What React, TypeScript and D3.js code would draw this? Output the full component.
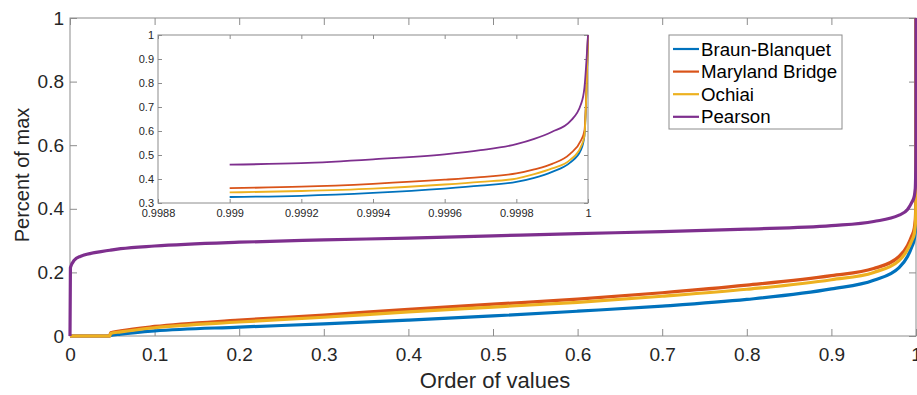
import React, { useEffect, useRef } from 'react';
import * as d3 from 'd3';

// order of values (shared by every series)
const orderValues = [
  0, 0.0005, 0.005, 0.012, 0.047, 0.048, 0.06, 0.1, 0.2, 0.3, 0.4, 0.5, 0.6, 0.7, 0.8, 0.9,
  0.95, 0.98, 0.99, 0.995, 0.998, 0.999, 0.9992, 0.9994, 0.9996, 0.9997, 0.9998, 0.99985,
  0.9999, 0.99995, 0.99998, 0.99999, 1,
];

const braunBlanquet = [
  0, 0, 0, 0, 0, 0.002, 0.006, 0.016, 0.028, 0.038, 0.05, 0.063, 0.078, 0.094, 0.115, 0.148,
  0.175, 0.215, 0.25, 0.28, 0.305, 0.325, 0.33, 0.342, 0.36, 0.372, 0.388, 0.405, 0.43, 0.468,
  0.52, 0.58, 1,
];
const marylandBridge = [
  0, 0, 0, 0, 0, 0.01, 0.016, 0.03, 0.05, 0.066, 0.084, 0.1, 0.116, 0.136, 0.16, 0.19, 0.212,
  0.25, 0.285, 0.315, 0.34, 0.362, 0.368, 0.38, 0.397, 0.408, 0.423, 0.44, 0.463, 0.505, 0.56,
  0.6, 1,
];
const ochiai = [
  0, 0, 0, 0, 0, 0.008, 0.013, 0.026, 0.044, 0.059, 0.076, 0.091, 0.106, 0.125, 0.147, 0.177,
  0.2, 0.237, 0.272, 0.3, 0.322, 0.344, 0.35, 0.36, 0.377, 0.388, 0.402, 0.42, 0.444, 0.48,
  0.534, 0.58, 1,
];
const pearson = [
  0, 0.215, 0.238, 0.25, 0.2695, 0.27, 0.2745, 0.283, 0.295, 0.302, 0.308, 0.315, 0.322, 0.328,
  0.336, 0.347, 0.36, 0.38, 0.398, 0.42, 0.44, 0.46, 0.466, 0.482, 0.503, 0.52, 0.545,
  0.567, 0.597, 0.64, 0.71, 0.78, 1,
];

const seriesNames = ['Braun-Blanquet', 'Maryland Bridge', 'Ochiai', 'Pearson'];
const seriesValues = [braunBlanquet, marylandBridge, ochiai, pearson];
const seriesColors = ['#0072BD', '#D95319', '#EDB120', '#7E2F8E'];

const mainXTicks = [0, 0.1, 0.2, 0.3, 0.4, 0.5, 0.6, 0.7, 0.8, 0.9, 1];
const mainYTicks = [0, 0.2, 0.4, 0.6, 0.8, 1];
const insetXTicks = [0.9988, 0.999, 0.9992, 0.9994, 0.9996, 0.9998, 1];
const insetYTicks = [0.3, 0.4, 0.5, 0.6, 0.7, 0.8, 0.9, 1];

const FONT = '"Liberation Sans", Arial, Helvetica, sans-serif';
const AXIS_GRAY = '#8c8c8c';
const TEXT_COLOR = '#262626';

function App() {
  const ref = useRef<SVGSVGElement | null>(null);

  useEffect(() => {
    const svg = d3.select(ref.current);
    svg.selectAll('*').remove();

    const fmt = d3.format('~g');

    // ---- main axes
    const m = { left: 70, right: 916, top: 18, bottom: 336 };
    const x = d3.scaleLinear().domain([0, 1]).range([m.left, m.right]);
    const y = d3.scaleLinear().domain([0, 1]).range([m.bottom, m.top]);

    const main = svg.append('g');

    main.append('rect')
      .attr('x', m.left).attr('y', m.top)
      .attr('width', m.right - m.left).attr('height', m.bottom - m.top)
      .attr('fill', '#fff');

    const styleAxis = (g: any, size: number) => {
      g.select('.domain').remove();
      g.selectAll('.tick line').attr('stroke', AXIS_GRAY).attr('stroke-width', 1);
      g.selectAll('.tick text')
        .attr('fill', TEXT_COLOR)
        .style('font-family', FONT)
        .style('font-size', `${size}px`);
    };

    main.append('g')
      .attr('transform', `translate(0,${m.bottom})`)
      .call(d3.axisBottom(x).tickValues(mainXTicks).tickFormat(fmt as any)
        .tickSizeInner(-7).tickSizeOuter(0).tickPadding(12))
      .call((g: any) => styleAxis(g, 19));
    main.append('g')
      .attr('transform', `translate(0,${m.top})`)
      .call(d3.axisBottom(x).tickValues(mainXTicks).tickFormat(() => '')
        .tickSizeInner(7).tickSizeOuter(0))
      .call((g: any) => styleAxis(g, 19));
    main.append('g')
      .attr('transform', `translate(${m.left},0)`)
      .call(d3.axisLeft(y).tickValues(mainYTicks).tickFormat(fmt as any)
        .tickSizeInner(-7).tickSizeOuter(0).tickPadding(6))
      .call((g: any) => styleAxis(g, 19));
    main.append('g')
      .attr('transform', `translate(${m.right},0)`)
      .call(d3.axisLeft(y).tickValues(mainYTicks).tickFormat(() => '')
        .tickSizeInner(7).tickSizeOuter(0))
      .call((g: any) => styleAxis(g, 19));

    main.append('rect')
      .attr('x', m.left).attr('y', m.top)
      .attr('width', m.right - m.left).attr('height', m.bottom - m.top)
      .attr('fill', 'none').attr('stroke', AXIS_GRAY).attr('stroke-width', 1);

    const lineMain = d3.line<number>()
      .curve(d3.curveMonotoneX)
      .x((_d, i) => x(orderValues[i]))
      .y((d) => y(d));

    seriesValues.forEach((vals, k) => {
      main.append('path')
        .attr('d', lineMain(vals))
        .attr('fill', 'none')
        .attr('stroke', seriesColors[k])
        .attr('stroke-width', 3.2)
        .attr('stroke-linejoin', 'round');
    });

    main.append('text')
      .attr('x', 495).attr('y', 388)
      .attr('text-anchor', 'middle')
      .attr('fill', TEXT_COLOR)
      .style('font-family', FONT).style('font-size', '22px')
      .text('Order of values');
    main.append('text')
      .attr('transform', `translate(29,${(m.top + m.bottom) / 2 - 2}) rotate(-90)`)
      .attr('text-anchor', 'middle')
      .attr('fill', TEXT_COLOR)
      .style('font-family', FONT).style('font-size', '20px')
      .text('Percent of max');

    // ---- inset
    const n = { left: 158, right: 588, top: 35, bottom: 203 };
    const xi = d3.scaleLinear().domain([0.9988, 1]).range([n.left, n.right]);
    const yi = d3.scaleLinear().domain([0.3, 1]).range([n.bottom, n.top]);
    const inset = svg.append('g');

    inset.append('rect')
      .attr('x', n.left).attr('y', n.top)
      .attr('width', n.right - n.left).attr('height', n.bottom - n.top)
      .attr('fill', '#fff');

    inset.append('g')
      .attr('transform', `translate(0,${n.bottom})`)
      .call(d3.axisBottom(xi).tickValues(insetXTicks).tickFormat(fmt as any)
        .tickSizeInner(-4).tickSizeOuter(0).tickPadding(6))
      .call((g: any) => styleAxis(g, 11));
    inset.append('g')
      .attr('transform', `translate(0,${n.top})`)
      .call(d3.axisBottom(xi).tickValues(insetXTicks).tickFormat(() => '')
        .tickSizeInner(4).tickSizeOuter(0))
      .call((g: any) => styleAxis(g, 11));
    inset.append('g')
      .attr('transform', `translate(${n.left},0)`)
      .call(d3.axisLeft(yi).tickValues(insetYTicks).tickFormat(fmt as any)
        .tickSizeInner(-4).tickSizeOuter(0).tickPadding(4))
      .call((g: any) => styleAxis(g, 11));
    inset.append('g')
      .attr('transform', `translate(${n.right},0)`)
      .call(d3.axisLeft(yi).tickValues(insetYTicks).tickFormat(() => '')
        .tickSizeInner(4).tickSizeOuter(0))
      .call((g: any) => styleAxis(g, 11));

    inset.append('rect')
      .attr('x', n.left).attr('y', n.top)
      .attr('width', n.right - n.left).attr('height', n.bottom - n.top)
      .attr('fill', 'none').attr('stroke', AXIS_GRAY).attr('stroke-width', 1);

    // the inset plots only the last thousandth of the ordered values
    const insetIdx = orderValues.map((v, i) => i).filter((i) => orderValues[i] >= 0.999);

    seriesValues.forEach((vals, k) => {
      const lineInset = d3.line<number>()
        .curve(d3.curveMonotoneX)
        .x((i) => xi(orderValues[i]))
        .y((i) => yi(vals[i]));
      inset.append('path')
        .attr('d', lineInset(insetIdx))
        .attr('fill', 'none')
        .attr('stroke', seriesColors[k])
        .attr('stroke-width', 1.8)
        .attr('stroke-linejoin', 'round');
    });

    // ---- legend
    const lg = svg.append('g').attr('transform', 'translate(669,35)');
    lg.append('rect')
      .attr('width', 173).attr('height', 94)
      .attr('fill', '#fff').attr('stroke', AXIS_GRAY).attr('stroke-width', 1);
    seriesNames.forEach((name, k) => {
      const cy = 14 + k * 22.6;
      lg.append('line')
        .attr('x1', 4).attr('x2', 30).attr('y1', cy).attr('y2', cy)
        .attr('stroke', seriesColors[k]).attr('stroke-width', 2.2);
      lg.append('text')
        .attr('x', 32).attr('y', cy).attr('dy', '0.35em')
        .attr('fill', '#000')
        .style('font-family', FONT).style('font-size', '18.7px')
        .text(name);
    });
  }, []);

  return (
    <div style={{ position: 'absolute', left: 0, top: 0 }}>
      <svg ref={ref} width={917} height={395} style={{ display: 'block', background: '#fff' }} />
    </div>
  );
}

export default App;
